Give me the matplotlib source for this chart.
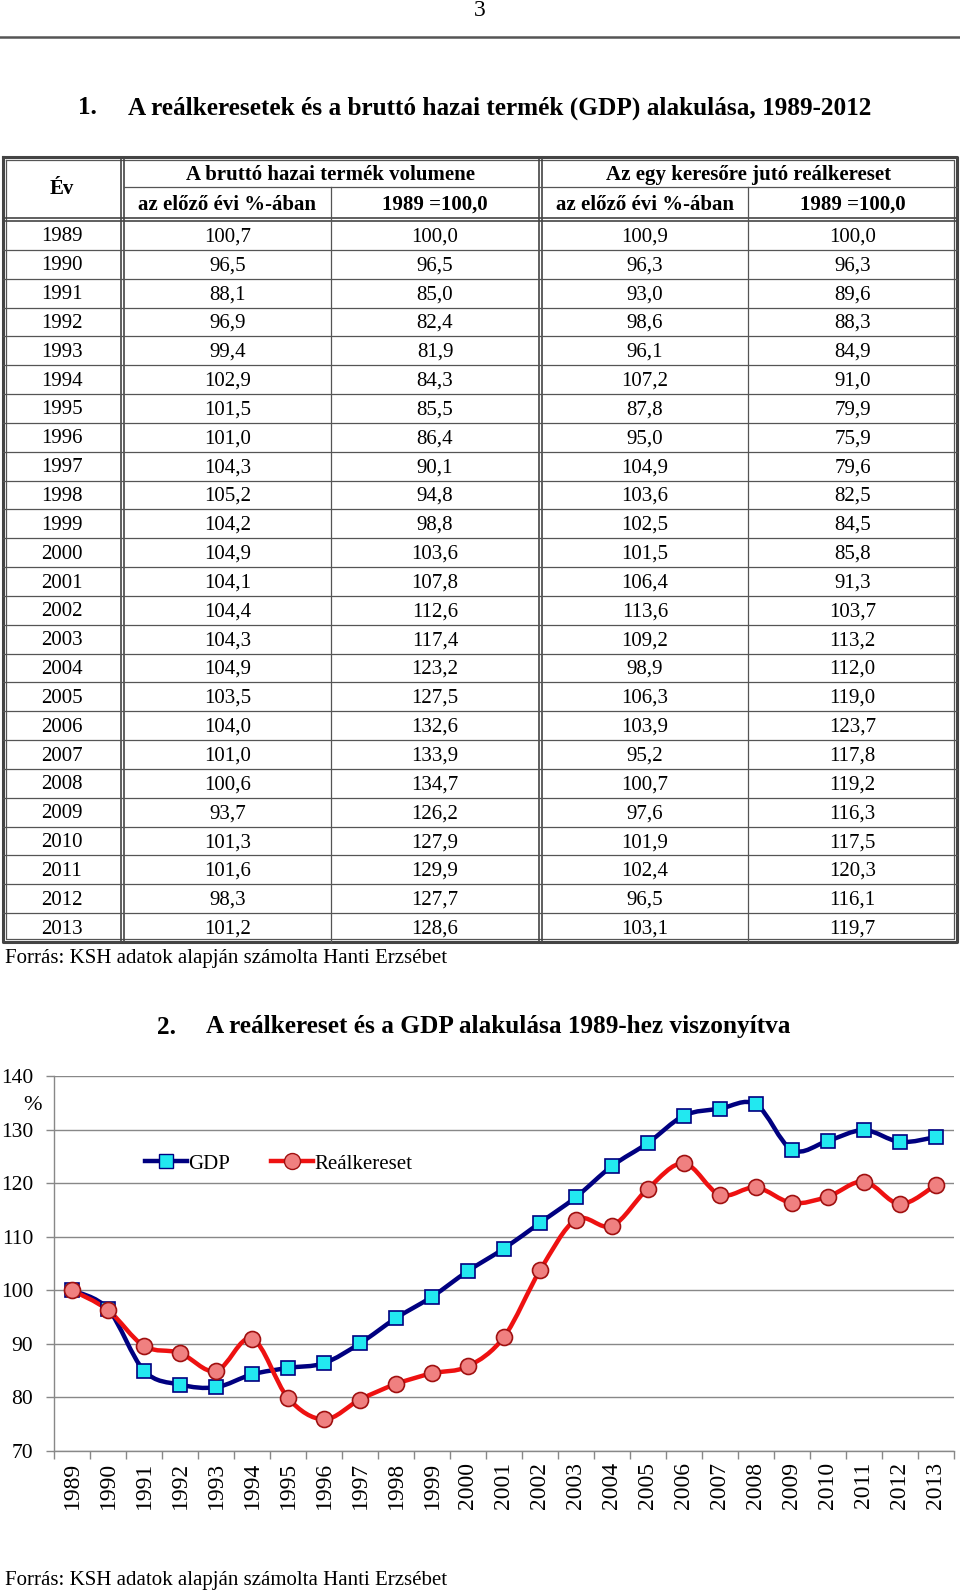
import matplotlib
matplotlib.use("Agg")
import matplotlib.pyplot as plt
from matplotlib.path import Path
from matplotlib.patches import PathPatch
from matplotlib.lines import Line2D

plt.rcParams['font.family'] = ['Liberation Serif', 'DejaVu Serif']

# ---- data ----
years = [str(y) for y in range(1989, 2014)]
gdp_prev = [100.7, 96.5, 88.1, 96.9, 99.4, 102.9, 101.5, 101.0, 104.3, 105.2, 104.2, 104.9,
            104.1, 104.4, 104.3, 104.9, 103.5, 104.0, 101.0, 100.6, 93.7, 101.3, 101.6, 98.3, 101.2]
gdp_index = [100.0, 96.5, 85.0, 82.4, 81.9, 84.3, 85.5, 86.4, 90.1, 94.8, 98.8, 103.6,
             107.8, 112.6, 117.4, 123.2, 127.5, 132.6, 133.9, 134.7, 126.2, 127.9, 129.9, 127.7, 128.6]
wage_prev = [100.9, 96.3, 93.0, 98.6, 96.1, 107.2, 87.8, 95.0, 104.9, 103.6, 102.5, 101.5,
             106.4, 113.6, 109.2, 98.9, 106.3, 103.9, 95.2, 100.7, 97.6, 101.9, 102.4, 96.5, 103.1]
wage_index = [100.0, 96.3, 89.6, 88.3, 84.9, 91.0, 79.9, 75.9, 79.6, 82.5, 84.5, 85.8,
              91.3, 103.7, 113.2, 112.0, 119.0, 123.7, 117.8, 119.2, 116.3, 117.5, 120.3, 116.1, 119.7]
y_ticks = [70, 80, 90, 100, 110, 120, 130, 140]

W, H = 960, 1593
fig = plt.figure(figsize=(W / 100, H / 100), dpi=100)

# page axes in pixel coordinates
page = fig.add_axes([0, 0, 1, 1])
page.set_xlim(0, W)
page.set_ylim(H, 0)
page.axis('off')

# page header
page.text(480, 11, "3", ha='center', va='center', fontsize=17)
page.plot([0, W], [37, 37], color='#555555', lw=1.8)

# table title
tfs = 18.2
page.text(78, 108, "1.", ha='left', va='center', fontsize=tfs, fontweight='bold')
page.text(128, 108, "A reálkeresetek és a bruttó hazai termék (GDP) alakulása, 1989-2012",
          ha='left', va='center', fontsize=tfs, fontweight='bold')

# ---- table ----
x_left, x_right = 3, 957
y_top, y_bot = 157, 942
x_ev, x_mid = 121, 539
x_sub1, x_sub2 = 331, 748
y_h1, y_hb = 187, 218
row_top = 221
row_h = (y_bot - row_top) / len(years)
bc = '#444444'
lc = '#555555'

# outer double border
page.plot([x_left, x_right, x_right, x_left, x_left], [y_top, y_top, y_bot, y_bot, y_top], color=bc, lw=2.2)
page.plot([x_left + 3, x_right - 3, x_right - 3, x_left + 3, x_left + 3],
          [y_top + 3, y_top + 3, y_bot - 3, y_bot - 3, y_top + 3], color=lc, lw=0.9)
# vertical double lines
for xv in (x_ev, x_mid):
    page.plot([xv, xv], [y_top, y_bot], color=bc, lw=1.2)
    page.plot([xv + 3, xv + 3], [y_top, y_bot], color=bc, lw=1.2)
# header separators
page.plot([x_ev + 3, x_right], [y_h1, y_h1], color=lc, lw=0.9)
page.plot([x_left, x_right], [y_hb, y_hb], color=bc, lw=1.2)
page.plot([x_left, x_right], [y_hb + 3, y_hb + 3], color=bc, lw=1.2)
for xs in (x_sub1, x_sub2):
    page.plot([xs, xs], [y_h1, y_bot], color=lc, lw=0.9)
for i in range(1, len(years)):
    yy = row_top + i * row_h
    page.plot([x_left, x_right], [yy, yy], color=lc, lw=0.9)

hfs = 15
page.text((x_left + x_ev) / 2, (y_top + y_hb) / 2 + 1, "Év", ha='center', va='center', fontsize=hfs, fontweight='bold')
page.text((x_ev + x_mid) / 2 + 1, (y_top + y_h1) / 2 + 3, "A bruttó hazai termék volumene",
          ha='center', va='center', fontsize=hfs, fontweight='bold')
page.text((x_mid + x_right) / 2 + 1, (y_top + y_h1) / 2 + 3, "Az egy keresőre jutó reálkereset",
          ha='center', va='center', fontsize=hfs, fontweight='bold')
col_centers = [(x_left + x_ev) / 2, (x_ev + 3 + x_sub1) / 2, (x_sub1 + x_mid) / 2,
               (x_mid + 3 + x_sub2) / 2, (x_sub2 + x_right) / 2]
sub_heads = ["az előző évi %-ában", "1989 =100,0", "az előző évi %-ában", "1989 =100,0"]
for cx, s in zip(col_centers[1:], sub_heads):
    page.text(cx, (y_h1 + y_hb) / 2 + 2, s, ha='center', va='center', fontsize=hfs, fontweight='bold')


def fmt(v):
    return f"{v:.1f}".replace('.', ',')


dfs = 15
for i, yr in enumerate(years):
    yc = row_top + (i + 0.5) * row_h + 1.5
    vals = [yr, fmt(gdp_prev[i]), fmt(gdp_index[i]), fmt(wage_prev[i]), fmt(wage_index[i])]
    for cx, s in zip(col_centers, vals):
        page.text(cx, yc, s, ha='center', va='center', fontsize=dfs)

page.text(5, 958, "Forrás: KSH adatok alapján számolta Hanti Erzsébet", ha='left', va='center', fontsize=15)

# chart title
cfs = 18.2
page.text(157, 1027, "2.", ha='left', va='center', fontsize=cfs, fontweight='bold')
page.text(206, 1027, "A reálkereset és a GDP alakulása 1989-hez viszonyítva",
          ha='left', va='center', fontsize=cfs, fontweight='bold')
page.text(32, 1105, "%", ha='center', va='center', fontsize=16)
page.text(5, 1580, "Forrás: KSH adatok alapján számolta Hanti Erzsébet", ha='left', va='center', fontsize=15)

# ---- chart ----
ax_l, ax_r, ax_t, ax_b = 54, 954, 1076, 1451
ax = fig.add_axes([ax_l / W, 1 - ax_b / H, (ax_r - ax_l) / W, (ax_b - ax_t) / H])
ax.set_xlim(-0.5, len(years) - 0.5)
ax.set_ylim(70, 140)
ax.set_yticks(y_ticks)
ax.set_yticklabels([str(t) for t in y_ticks], fontsize=15.5)
ax.set_xticks(range(len(years)))
ax.set_xticklabels(years, rotation=90, fontsize=17)
ax.set_xticks([i + 0.5 for i in range(-1, len(years))], minor=True)
ax.tick_params(axis='x', which='major', length=0, pad=8)
ax.tick_params(axis='x', which='minor', length=6, color='#888888', width=1)
ax.tick_params(axis='y', length=6, color='#888888', width=1, pad=9)
ax.grid(axis='y', color='#888888', lw=1)
ax.set_axisbelow(True)
for s in ('top', 'right'):
    ax.spines[s].set_visible(False)
for s in ('left', 'bottom'):
    ax.spines[s].set_color('#888888')
    ax.spines[s].set_linewidth(1)


def smooth_path(xs, ys):
    # cubic Bezier segments through the data points (Excel-style smoothed line)
    n = len(xs)
    verts = [(xs[0], ys[0])]
    codes = [Path.MOVETO]
    for i in range(n - 1):
        x0, y0 = xs[max(i - 1, 0)], ys[max(i - 1, 0)]
        x1, y1 = xs[i], ys[i]
        x2, y2 = xs[i + 1], ys[i + 1]
        x3, y3 = xs[min(i + 2, n - 1)], ys[min(i + 2, n - 1)]
        c1 = (x1 + (x2 - x0) / 6, y1 + (y2 - y0) / 6)
        c2 = (x2 - (x3 - x1) / 6, y2 - (y3 - y1) / 6)
        verts += [c1, c2, (x2, y2)]
        codes += [Path.CURVE4] * 3
    return Path(verts, codes)


xs = list(range(len(years)))
gdp_line = '#000080'
wage_line = '#ee1111'
ax.add_patch(PathPatch(smooth_path(xs, gdp_index), fill=False, edgecolor=gdp_line, lw=3.2,
                       capstyle='round', joinstyle='round', zorder=3))
ax.add_patch(PathPatch(smooth_path(xs, wage_index), fill=False, edgecolor=wage_line, lw=3.2,
                       capstyle='round', joinstyle='round', zorder=3))
ax.plot(xs, gdp_index, linestyle='none', marker='s', ms=10, mfc='#22e8f0', mec=gdp_line, mew=1.2, zorder=4)
ax.plot(xs, wage_index, linestyle='none', marker='o', ms=11.5, mfc='#f08080', mec='#a01010', mew=1.2, zorder=4)

handles = [Line2D([], [], color=gdp_line, lw=3.2, marker='s', ms=10, mfc='#22e8f0', mec=gdp_line),
           Line2D([], [], color=wage_line, lw=3.2, marker='o', ms=11.5, mfc='#f08080', mec='#a01010')]
ax.legend(handles, ["GDP", "Reálkereset"], loc='center left', bbox_to_anchor=((145 - ax_l) / 900, (ax_b - 1164) / 375),
          ncol=2, frameon=False, fontsize=15, handlelength=2.0, handletextpad=0.05, columnspacing=2.0,
          borderaxespad=0, borderpad=0)

fig.savefig("out.png", dpi=100)
